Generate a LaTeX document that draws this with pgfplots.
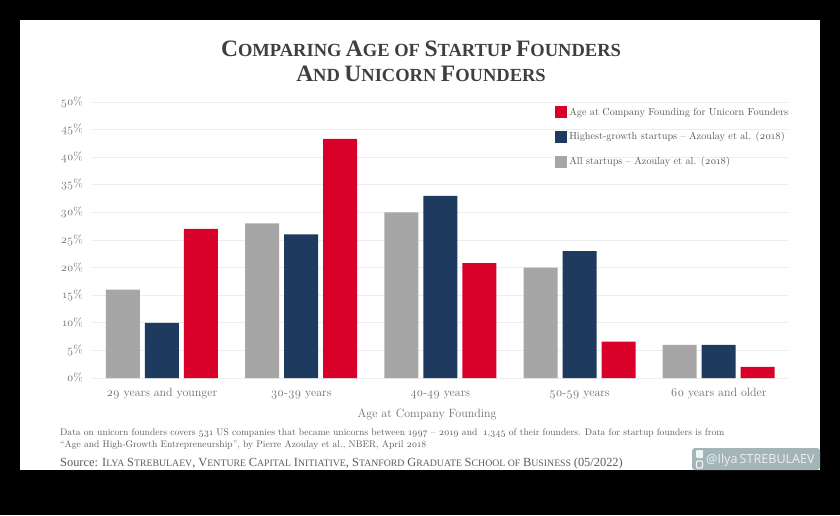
\documentclass[border=0pt]{standalone}
\usepackage{fontspec}
\usepackage{pgfplots}
\pgfplotsset{compat=1.18}
\setmainfont[Numbers=OldStyle]{Latin Modern Roman}
\newfontfamily\tnr{Liberation Serif}
\newfontfamily\wm{Open Sans}
\definecolor{cred}{HTML}{D9002A}
\definecolor{cnavy}{HTML}{1F3A5F}
\definecolor{cgray}{HTML}{A6A6A6}
\definecolor{ctext}{HTML}{6E6E6E}
\definecolor{cfoot}{HTML}{5C5C5C}
\definecolor{ctitle}{HTML}{3F3F3F}
\definecolor{cwm}{HTML}{A3B5B8}
\newcommand{\tbig}[1]{{\fontsize{23.5}{23.5}\selectfont #1}}
\newcommand{\tsml}[1]{{\fontsize{18.5}{18.5}\selectfont #1}}
\newcommand{\sbig}[1]{{\fontsize{12.4}{13}\selectfont #1}}
\newcommand{\ssml}[1]{{\fontsize{9.8}{10}\selectfont #1}}
\begin{document}
\begin{tikzpicture}
\fill[black] (0pt,0pt) rectangle (840pt,515pt);
\fill[white] (20pt,45pt) rectangle (820pt,495pt);
\begin{axis}[
  at={(92.3pt,137pt)}, anchor=south west,
  scale only axis, width=696pt, height=276pt,
  xmin=-0.5, xmax=4.5, ymin=0, ymax=50,
  ytick={0,5,...,50},
  yticklabels={0\%,5\%,10\%,15\%,20\%,25\%,30\%,35\%,40\%,45\%,50\%},
  xtick={0,1,2,3,4},
  xticklabels={29 years and younger,30-39 years,40-49 years,50-59 years,60 years and older},
  ymajorgrids, major grid style={draw=black!7, line width=0.8pt},
  major tick length=0pt,
  axis line style={draw=none},
  tick label style={font=\fontsize{11.5}{12}\selectfont, text=ctext},
  yticklabel style={xshift=-6pt},
  xticklabel style={yshift=-7pt, font=\fontsize{12}{12}\selectfont, text height=8pt, text depth=3pt},
  xlabel={Age at Company Founding},
  xlabel style={font=\fontsize{12}{12}\selectfont, text=ctext, at={(axis description cs:0.481,0)}, anchor=center, yshift=-36pt},
  ybar, bar width=34pt,
  reverse legend=true,
  legend cell align=left,
  legend style={at={(463pt,272pt)}, anchor=north west, draw=none, fill=none,
    font=\fontsize{10.2}{11}\selectfont, text=ctext!80!black,
    row sep=11.5pt, inner sep=0pt, outer sep=0pt,
    /tikz/every even column/.append style={column sep=5pt}},
  legend image code/.code={\fill[#1,draw=none] (0pt,-6pt) rectangle (12pt,6pt);},
]
\addplot[fill=cgray,draw=none,bar shift=-39pt] coordinates {(0,16) (1,28) (2,30) (3,20) (4,6)};
\addplot[fill=cnavy,draw=none,bar shift=0pt] coordinates {(0,10) (1,26) (2,33) (3,23) (4,6)};
\addplot[fill=cred,draw=none,bar shift=39pt] coordinates {(0,27) (1,43.3) (2,20.8) (3,6.6) (4,2)};
\legend{All startups -- Azoulay et al. (2018),Highest-growth startups -- Azoulay et al. (2018),Age at Company Founding for Unicorn Founders}
\end{axis}
\node[text=ctitle, font=\tnr\bfseries\fontsize{18}{18}\selectfont, anchor=center] at (421pt,466pt) {\tbig{C}\tsml{OMPARING} \tbig{A}\tsml{GE OF} \tbig{S}\tsml{TARTUP} \tbig{F}\tsml{OUNDERS}};
\node[text=ctitle, font=\tnr\bfseries\fontsize{18}{18}\selectfont, anchor=center] at (421pt,441pt) {\tbig{A}\tsml{ND} \tbig{U}\tsml{NICORN} \tbig{F}\tsml{OUNDERS}};
\node[text=cfoot, font=\fontsize{9.55}{10}\selectfont, anchor=west, inner sep=0pt] at (60pt,81.5pt) {Data on unicorn founders covers 531 US companies that became unicorns between 1997 -- 2019 and\ \ 1,345 of their founders. Data for startup founders is from};
\node[text=cfoot, font=\fontsize{9.55}{10}\selectfont, anchor=west, inner sep=0pt] at (60pt,69.5pt) {``Age and High-Growth Entrepreneurship'', by Pierre Azoulay et al., NBER, April 2018};
\node[text=cfoot, font=\tnr\fontsize{11}{11}\selectfont, anchor=west, inner sep=0pt] at (60pt,51.5pt) {\sbig{Source: I}\ssml{LYA} \sbig{S}\ssml{TREBULAEV}\sbig{, V}\ssml{ENTURE} \sbig{C}\ssml{APITAL} \sbig{I}\ssml{NITIATIVE}\sbig{, S}\ssml{TANFORD} \sbig{G}\ssml{RADUATE} \sbig{S}\ssml{CHOOL OF} \sbig{B}\ssml{USINESS} \sbig{(05/2022)}};
\fill[cwm, rounded corners=3pt] (692pt,45pt) -- (692pt,67pt) -- (820pt,67pt) -- (820pt,45pt) -- cycle;
\fill[white!85!cwm, rounded corners=1pt] (696pt,57pt) rectangle (703pt,65pt);
\draw[white!85!cwm, line width=1.2pt, rounded corners=1pt] (696.5pt,47pt) rectangle (702.5pt,54pt);
\node[text=white!80!cwm, font=\wm\fontsize{12.6}{13}\selectfont, anchor=west, inner sep=0pt] at (706pt,55pt) {@Ilya\,STREBULAEV};
\end{tikzpicture}
\end{document}
